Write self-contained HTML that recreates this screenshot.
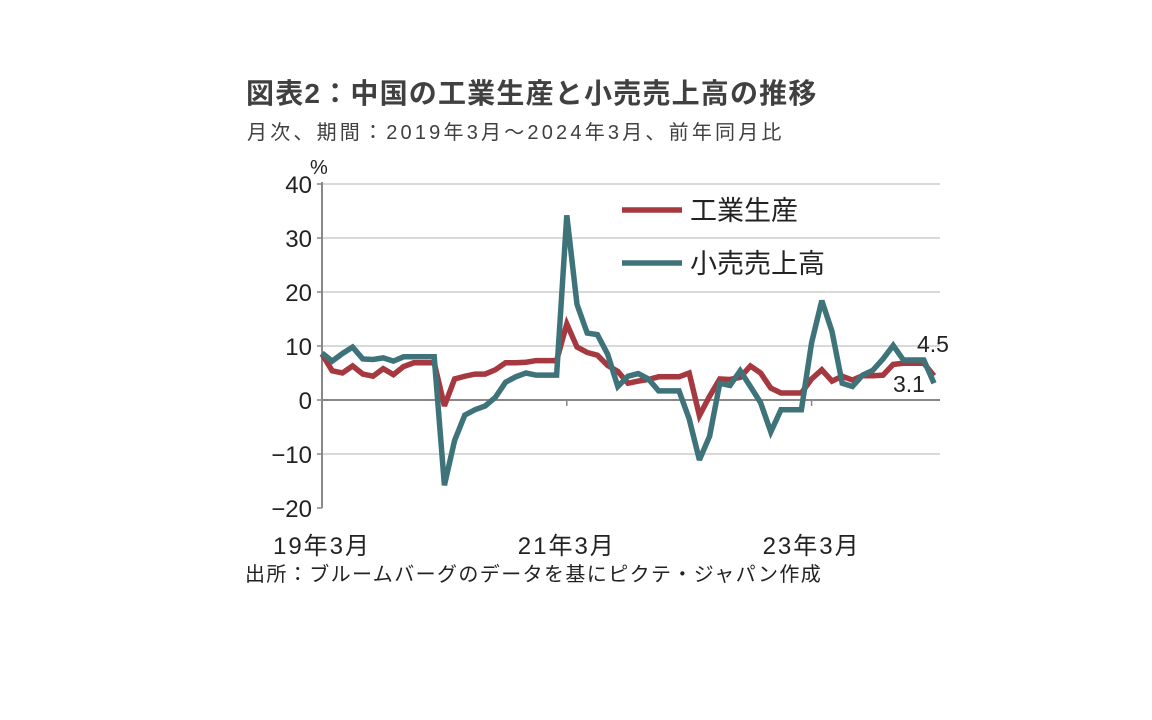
<!DOCTYPE html>
<html><head><meta charset="utf-8">
<style>
body{margin:0;width:1152px;height:720px;background:#fff;overflow:hidden;font-family:"Liberation Sans","Noto Sans CJK JP",sans-serif;color:#333}
.t{position:absolute;white-space:nowrap}
</style></head><body>
<div class="t" style="left:246px;top:72px;font-size:28px;font-weight:bold;color:#404040;letter-spacing:1.2px">図表2：中国の工業生産と小売売上高の推移</div>
<div class="t" style="left:247px;top:116px;font-size:20px;color:#404040;letter-spacing:3.2px">月次、期間：2019年3月～2024年3月、前年同月比</div>
<div class="t" style="left:245px;top:558px;font-size:20px;color:#222;letter-spacing:1.4px">出所：ブルームバーグのデータを基にピクテ・ジャパン作成</div>
<svg id="c" width="1152" height="720" style="position:absolute;left:0;top:0"></svg>
<script>
const months=["19年3月","","","","","","","","","","","","20年3月","","","","","","","","","","","","21年3月","","","","","","","","","","","","22年3月","","","","","","","","","","","","23年3月","","","","","","","","","","","","24年3月"];
const industrial=[8.5,5.4,5.0,6.3,4.8,4.4,5.8,4.7,6.2,6.9,6.9,6.9,-1.1,3.9,4.4,4.8,4.8,5.6,6.9,6.9,7.0,7.3,7.3,7.3,14.1,9.8,8.8,8.3,6.4,5.3,3.1,3.5,3.8,4.3,4.3,4.3,5.0,-2.9,0.7,3.9,3.8,4.2,6.3,5.0,2.2,1.3,1.3,1.3,3.9,5.6,3.5,4.4,3.7,4.5,4.5,4.6,6.6,6.8,6.8,6.8,4.5];
const retail=[8.7,7.2,8.6,9.8,7.6,7.5,7.8,7.2,8.0,8.0,8.0,8.0,-15.8,-7.5,-2.8,-1.8,-1.1,0.5,3.3,4.3,5.0,4.6,4.6,4.6,34.2,17.7,12.4,12.1,8.5,2.5,4.4,4.9,3.9,1.7,1.7,1.7,-3.5,-11.1,-6.7,3.1,2.7,5.4,2.5,-0.5,-5.9,-1.8,-1.8,-1.8,10.6,18.4,12.7,3.1,2.5,4.6,5.5,7.6,10.1,7.4,7.4,7.4,3.1];
const yTicks=[40,30,20,10,0,-10,-20];
const xLabelIdx=[0,24,48];
const svg=document.getElementById('c');const NS='http://www.w3.org/2000/svg';
const X0=322,X1=940,DX=10.2;
const x=i=>X0+i*DX;
const y=v=>400-v*5.4;
function mk(t,a){const e=document.createElementNS(NS,t);for(const k in a)e.setAttribute(k,a[k]);svg.appendChild(e);return e;}
yTicks.forEach(v=>{
 if(v!==0&&v!==-20){const g=mk('line',{x1:X0,x2:X1,y1:y(v),y2:y(v),stroke:'#d9d9d9','stroke-width':2});
 
 }
 const tk=mk('line',{x1:X0-5,x2:X0,y1:y(v),y2:y(v),stroke:'#888','stroke-width':1.5});
 
 
 const t=mk('text',{x:312,y:y(v)+9,'text-anchor':'end','font-size':24,fill:'#222','font-family':'Liberation Sans, sans-serif'});
 t.textContent=(v<0?'\u2212'+(-v):v);
 
 
});
const yl=mk('text',{x:310,y:174,'font-size':20,fill:'#222'});yl.textContent='%';


const ya=mk('line',{x1:X0,x2:X0,y1:y(40)-2,y2:y(-20),stroke:'#888','stroke-width':2});


const za=mk('line',{x1:X0,x2:X1,y1:y(0),y2:y(0),stroke:'#888','stroke-width':2});


xLabelIdx.forEach(i=>{
 const tk=mk('line',{x1:x(i),x2:x(i),y1:y(0),y2:y(0)+6,stroke:'#888','stroke-width':1.5});
 
 
 const t=mk('text',{x:x(i),y:554,'text-anchor':'middle','font-size':24,'letter-spacing':2,fill:'#222'});
 t.textContent=months[i];
 
 
});
function line(d,col,name){
 const p=mk('polyline',{points:d.map((v,i)=>x(i)+','+y(v)).join(' '),fill:'none',stroke:col,'stroke-width':5.5,'stroke-linejoin':'miter','stroke-miterlimit':3});
 
 
}
line(industrial,'#a5393f','industrial-production-line');
line(retail,'#3f737a','retail-sales-line');
const l1=mk('line',{x1:622,x2:682,y1:210,y2:210,stroke:'#a5393f','stroke-width':5.5});


const lt1=mk('text',{x:690,y:220,'font-size':27,fill:'#222'});lt1.textContent='工業生産';


const l2=mk('line',{x1:622,x2:682,y1:263,y2:263,stroke:'#3f737a','stroke-width':5.5});


const lt2=mk('text',{x:690,y:273,'font-size':27,fill:'#222'});lt2.textContent='小売売上高';


const n=industrial.length-1;
const a1=mk('text',{x:917,y:352,'font-size':23,fill:'#222'});a1.textContent=industrial[n].toFixed(1);


const a2=mk('text',{x:893,y:392,'font-size':23,fill:'#222'});a2.textContent=retail[n].toFixed(1);


</script>
</body></html>
